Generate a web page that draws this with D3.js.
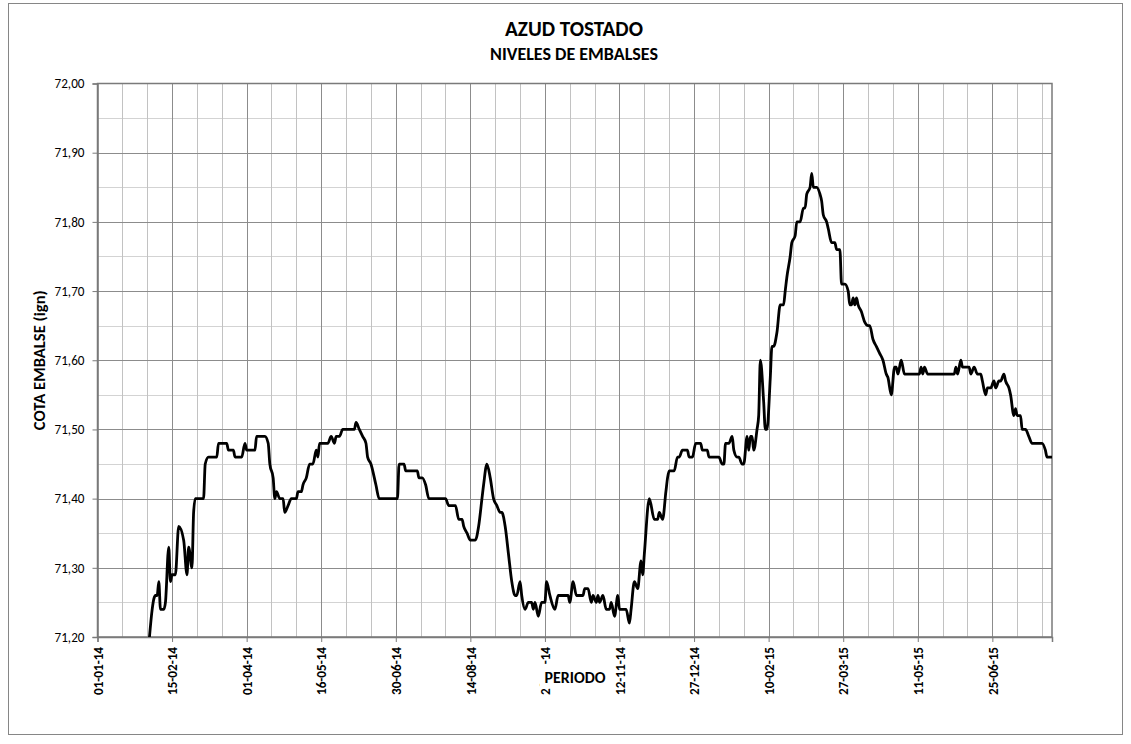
<!DOCTYPE html>
<html>
<head>
<meta charset="utf-8">
<script src="https://cdn.jsdelivr.net/npm/d3@7"></script>
<style>
  html, body { margin: 0; padding: 0; background: #fff; }
  svg { display: block; }
  text { font-family: Carlito, Lato, "Liberation Sans", sans-serif; fill: #000; }
</style>
</head>
<body>
<svg id="chart" width="1131" height="744"></svg>
<script>
// ---------------- DATA ----------------
const title = "AZUD TOSTADO";
const subtitle = "NIVELES DE EMBALSES";
const yTitle = "COTA EMBALSE (ign)";
const xTitle = "PERIODO";
const startDate = "2014-01-01";
const endDate = "2015-07-31";
// day number counted from 01-01-14
const days = [
  31, 33, 34, 35, 36, 37, 38, 40, 41, 43, 44, 45, 47, 49, 52, 54, 55, 57, 58, 59,
  64, 65, 67, 72, 73, 78, 79, 82, 83, 87, 89, 90, 95, 96, 101, 103, 104, 106, 107, 108,
  110, 112, 113, 115, 117, 120, 121, 123, 124, 126, 128, 130, 132, 133, 134, 139, 141, 143, 144, 146,
  148, 155, 156, 158, 160, 162, 163, 165, 168, 170, 180, 181, 182, 185, 186, 193, 194, 196, 198, 200,
  210, 212, 216, 218, 220, 221, 223, 225, 228, 230, 232, 233, 235, 237, 239, 241, 243, 244, 246, 248,
  250, 252, 253, 255, 256, 258, 260, 262, 263, 264, 266, 268, 270, 271, 273, 276, 278, 284, 285, 287,
  289, 293, 294, 296, 298, 299, 301, 302, 303, 305, 307, 309, 310, 312, 314, 315, 319, 321, 322, 324,
  326, 328, 329, 330, 333, 336, 338, 339, 341, 343, 344, 345, 348, 350, 351, 353, 356, 357, 359, 361,
  364, 365, 368, 369, 375, 377, 378, 379, 381, 383, 384, 386, 387, 389, 390, 392, 393, 394, 395, 396,
  398, 399, 400, 402, 403, 404, 406, 407, 408, 410, 412, 414, 415, 416, 418, 419, 421, 422, 424, 426,
  427, 428, 430, 431, 432, 434, 436, 437, 438, 440, 441, 443, 445, 446, 448, 449, 451, 453, 454, 455,
  456, 457, 458, 459, 461, 463, 465, 466, 468, 470, 472, 474, 476, 477, 479, 481, 482, 483, 485, 487,
  496, 497, 498, 499, 501, 517, 518, 519, 521, 522, 526, 527, 529, 531, 533, 534, 536, 537, 539, 541,
  542, 544, 545, 547, 548, 550, 551, 553, 554, 555, 557, 558, 560, 562, 564, 570, 572, 573, 576
];
const levels = [
  71.19, 71.24, 71.255, 71.26, 71.26, 71.28, 71.24, 71.24, 71.25, 71.33, 71.28, 71.29, 71.29, 71.36, 71.34, 71.29, 71.33, 71.30, 71.38, 71.40,
  71.40, 71.45, 71.46, 71.46, 71.48, 71.48, 71.47, 71.47, 71.46, 71.46, 71.48, 71.47, 71.47, 71.49, 71.49, 71.48, 71.45, 71.43, 71.40, 71.41,
  71.40, 71.40, 71.38, 71.39, 71.40, 71.40, 71.41, 71.41, 71.42, 71.43, 71.45, 71.45, 71.47, 71.46, 71.48, 71.48, 71.49, 71.48, 71.49, 71.49,
  71.50, 71.50, 71.51, 71.50, 71.49, 71.48, 71.46, 71.45, 71.42, 71.40, 71.40, 71.40, 71.45, 71.45, 71.44, 71.44, 71.43, 71.43, 71.42, 71.40,
  71.40, 71.39, 71.39, 71.37, 71.37, 71.36, 71.35, 71.34, 71.34, 71.36, 71.40, 71.42, 71.45, 71.43, 71.40, 71.39, 71.38, 71.38, 71.36, 71.32,
  71.28, 71.26, 71.26, 71.28, 71.26, 71.24, 71.25, 71.25, 71.24, 71.25, 71.23, 71.25, 71.25, 71.28, 71.26, 71.24, 71.26, 71.26, 71.25, 71.28,
  71.26, 71.26, 71.27, 71.27, 71.25, 71.26, 71.25, 71.26, 71.25, 71.26, 71.24, 71.24, 71.25, 71.23, 71.26, 71.24, 71.24, 71.22, 71.24, 71.28,
  71.27, 71.31, 71.29, 71.32, 71.40, 71.37, 71.37, 71.38, 71.37, 71.41, 71.43, 71.44, 71.44, 71.46, 71.46, 71.47, 71.47, 71.46, 71.46, 71.48,
  71.48, 71.47, 71.47, 71.46, 71.46, 71.45, 71.45, 71.48, 71.48, 71.49, 71.47, 71.46, 71.46, 71.45, 71.45, 71.49, 71.47, 71.49, 71.49, 71.47,
  71.50, 71.52, 71.60, 71.54, 71.50, 71.50, 71.575, 71.62, 71.62, 71.64, 71.68, 71.68, 71.70, 71.72, 71.75, 71.77, 71.78, 71.80, 71.80, 71.82,
  71.82, 71.84, 71.85, 71.87, 71.85, 71.85, 71.84, 71.83, 71.81, 71.80, 71.79, 71.77, 71.77, 71.76, 71.76, 71.71, 71.71, 71.70, 71.68, 71.68,
  71.69, 71.68, 71.69, 71.68, 71.67, 71.655, 71.65, 71.65, 71.63, 71.62, 71.61, 71.60, 71.58, 71.575, 71.55, 71.59, 71.59, 71.58, 71.60, 71.58,
  71.58, 71.59, 71.58, 71.59, 71.58, 71.58, 71.59, 71.58, 71.60, 71.59, 71.59, 71.58, 71.59, 71.58, 71.58, 71.57, 71.55, 71.56, 71.56, 71.57,
  71.56, 71.57, 71.57, 71.58, 71.57, 71.56, 71.55, 71.52, 71.53, 71.52, 71.52, 71.50, 71.50, 71.49, 71.48, 71.48, 71.47, 71.46, 71.46
];
const yTicks = [71.20, 71.30, 71.40, 71.50, 71.60, 71.70, 71.80, 71.90, 72.00];
const xLabelStepDays = 45;
const xMinorStepDays = 15;

// ---------------- LAYOUT ----------------
const plot = { left: 97.5, right: 1052, top: 83.5, bottom: 637 };

const svg = d3.select("#chart");
const parse = d3.utcParse("%Y-%m-%d");
const t0 = parse(startDate), t1 = parse(endDate);
const fmt = d3.utcFormat("%d-%m-%y");
const numFmt = d3.formatLocale({ decimal: ",", thousands: ".", grouping: [3], currency: ["", "€"] }).format(".2f");

const data = days.map((d, i) => ({ date: d3.utcDay.offset(t0, d), v: levels[i] }));

const x = d3.scaleUtc().domain([t0, t1]).range([plot.left, plot.right]);
const y = d3.scaleLinear().domain([71.2, 72.0]).range([plot.bottom, plot.top]);

// helper: measure text width at a base size and return size for target width
function fitSize(str, targetW, base, weight) {
  const t = svg.append("text").style("font-size", base + "px").style("font-weight", weight).text(str);
  const w = t.node().getComputedTextLength();
  t.remove();
  return w > 0 ? base * targetW / w : base;
}

// chart area border
svg.append("rect").attr("x", 8.5).attr("y", 3.5).attr("width", 1114).attr("height", 731)
  .attr("fill", "#fff").attr("stroke", "#868686").attr("stroke-width", 1);

// minor horizontal gridlines
const yMinor = d3.range(71.25, 72.0, 0.1).map(v => +v.toFixed(2));
svg.append("g").selectAll("line").data(yMinor).join("line")
  .attr("x1", plot.left).attr("x2", plot.right)
  .attr("y1", d => Math.round(y(d)) + 0.5).attr("y2", d => Math.round(y(d)) + 0.5)
  .attr("stroke", "#d3d3d3").attr("stroke-width", 1.2);

// vertical gridlines
const maxDay = d3.utcDay.count(t0, t1);
const vDays = d3.range(xMinorStepDays, maxDay, xMinorStepDays);
svg.append("g").selectAll("line").data(vDays).join("line")
  .attr("x1", d => Math.round(x(d3.utcDay.offset(t0, d))) + 0.5)
  .attr("x2", d => Math.round(x(d3.utcDay.offset(t0, d))) + 0.5)
  .attr("y1", plot.top).attr("y2", plot.bottom)
  .attr("stroke", d => d % xLabelStepDays === 0 ? "#8c8c8c" : "#c2c2c2")
  .attr("stroke-width", 1);

// major horizontal gridlines
svg.append("g").selectAll("line").data(yTicks.slice(1, -1)).join("line")
  .attr("x1", plot.left).attr("x2", plot.right)
  .attr("y1", d => Math.round(y(d)) + 0.5).attr("y2", d => Math.round(y(d)) + 0.5)
  .attr("stroke", "#8c8c8c").attr("stroke-width", 1);

// plot frame
svg.append("rect").attr("x", plot.left).attr("y", plot.top)
  .attr("width", plot.right - plot.left).attr("height", plot.bottom - plot.top)
  .attr("fill", "none").attr("stroke", "#7a7a7a").attr("stroke-width", 1.5);

// y axis
const yFont = fitSize("72,00", 30, 12, "normal");
const yAxis = d3.axisLeft(y).tickValues(yTicks).tickFormat(numFmt).tickSize(5).tickPadding(8);
const gy = svg.append("g").attr("transform", `translate(${plot.left},0)`).call(yAxis);
gy.select(".domain").attr("stroke", "#7a7a7a").attr("stroke-width", 1.5);
gy.selectAll(".tick line").attr("stroke", "#7a7a7a");
gy.selectAll(".tick text").style("font-size", yFont.toFixed(2) + "px").attr("fill", "#000")
  .style("font-family", "Carlito, Lato, sans-serif");

// x axis
const xFont = fitSize("01-01-14", 48, 12, "bold");
const xLabelDates = d3.range(0, maxDay, xLabelStepDays).map(d => d3.utcDay.offset(t0, d));
const xAxis = d3.axisBottom(x).tickValues(xLabelDates).tickFormat(fmt).tickSize(5).tickPadding(10);
const gx = svg.append("g").attr("transform", `translate(0,${plot.bottom})`).call(xAxis);
gx.select(".domain").attr("stroke", "#7a7a7a").attr("stroke-width", 1.5);
gx.selectAll(".tick line").attr("stroke", "#7a7a7a");
gx.selectAll(".tick text")
  .style("font-size", xFont.toFixed(2) + "px").style("font-weight", "bold").attr("fill", "#000")
  .style("font-family", "Carlito, Lato, sans-serif")
  .attr("text-anchor", "end")
  .attr("transform", "rotate(-90)")
  .attr("x", -10).attr("y", 0).attr("dy", "0.36em");

// line
const clipId = "plotclip";
svg.append("clipPath").attr("id", clipId).append("rect")
  .attr("x", plot.left).attr("y", plot.top - 2)
  .attr("width", plot.right - plot.left).attr("height", plot.bottom - plot.top + 2);
const line = d3.line().x(d => x(d.date)).y(d => y(d.v)).curve(d3.curveMonotoneX);
svg.append("path").datum(data)
  .attr("clip-path", `url(#${clipId})`)
  .attr("d", line).attr("fill", "none").attr("stroke", "#000")
  .attr("stroke-width", 2.8).attr("stroke-linejoin", "round").attr("stroke-linecap", "round");

// titles
svg.append("text").attr("x", 574).attr("y", 36).attr("text-anchor", "middle")
  .style("font-weight", "bold").style("font-size", fitSize(title, 138, 18, "bold").toFixed(2) + "px").text(title);
svg.append("text").attr("x", 574).attr("y", 60).attr("text-anchor", "middle")
  .style("font-weight", "bold").style("font-size", fitSize(subtitle, 168, 15, "bold").toFixed(2) + "px").text(subtitle);

// y title
svg.append("text").attr("transform", `translate(45,${(plot.top + plot.bottom) / 2}) rotate(-90)`)
  .attr("text-anchor", "middle").style("font-weight", "bold")
  .style("font-size", fitSize(yTitle, 140, 12, "bold").toFixed(2) + "px").text(yTitle);

// x title with white background (covers part of a tick label as in source)
svg.append("rect").attr("x", 540).attr("y", 664).attr("width", 70).attr("height", 24).attr("fill", "#fff");
svg.append("text").attr("x", 575).attr("y", 683.3).attr("text-anchor", "middle")
  .style("font-weight", "bold").style("font-size", fitSize(xTitle, 61, 14, "bold").toFixed(2) + "px").text(xTitle);
</script>
</body>
</html>
